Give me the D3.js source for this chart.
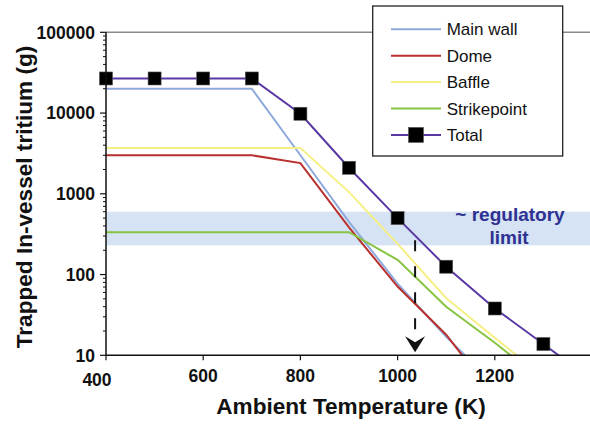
<html><head>
<meta charset="utf-8">
<title>Trapped tritium vs ambient temperature</title>
<script src="https://d3js.org/d3.v7.min.js"></script>
<style>
  body { margin: 0; background: #fff; }
  text { font-family: "Liberation Sans", Arial, sans-serif; }
  .tick-label { font-weight: bold; font-size: 17.5px; fill: #111; }
  .axis-title { font-weight: bold; font-size: 22.6px; fill: #111; }
  .legend-text { font-size: 17px; fill: #111; }
  .reg-text { font-weight: bold; font-size: 19px; fill: #2e3192; }
</style>
</head>
<body>
<svg id="chart" width="590" height="424"></svg>
<script>

// temperatures (K) at which the series were sampled
const temps = [400, 500, 600, 700, 800, 900, 1000, 1100, 1200, 1300, 1400];

// trapped tritium (g), one value per temperature from 400 K on
const mainWall    = [20000, 20000, 20000, 20000, 3000, 450, 77, 17, 4.3];
const dome        = [3000, 3000, 3000, 3000, 2400, 383, 71, 18, 3];
const baffle      = [3700, 3700, 3700, 3700, 3700, 1050, 240, 51, 16.5, 5.4];
const strikepoint = [335, 335, 335, 335, 335, 335, 152, 40, 14.3, 4.8];
const total       = [26800, 26800, 26800, 26800, 9800, 2100, 500, 125, 38, 13.8, 4.9];

const seriesNames = ["Main wall", "Dome", "Baffle", "Strikepoint", "Total"];
const seriesData = [mainWall, dome, baffle, strikepoint, total];
const seriesColors = ["#8eaadc", "#b8302f", "#f6ef84", "#86c441", "#5a38a4"];

// regulatory band (g) and the arrow marking where total crosses it
const regBand = [230, 600];
const arrowTemp = 1036;
const arrowFrom = 265;
const arrowTo = 10.9;

const xTicks = [400, 600, 800, 1000, 1200];
const yTicks = [10, 100, 1000, 10000, 100000];

const svg = d3.select("#chart");
const plot = { left: 106, right: 592, top: 32.3, bottom: 355.3 };

const x = d3.scaleLinear().domain([400, 1400]).range([plot.left, plot.right]);
const y = d3.scaleLog().domain([10, 100000]).range([plot.bottom, plot.top]);

svg.append("clipPath").attr("id", "clip")
  .append("rect")
  .attr("x", plot.left).attr("y", plot.top)
  .attr("width", plot.right - plot.left).attr("height", plot.bottom - plot.top);

// regulatory limit band
svg.append("rect")
  .attr("x", plot.left)
  .attr("y", y(regBand[1]))
  .attr("width", plot.right - plot.left)
  .attr("height", y(regBand[0]) - y(regBand[1]))
  .attr("fill", "#d5e3f4");

// top gridline
svg.append("line")
  .attr("x1", plot.left).attr("x2", plot.right)
  .attr("y1", y(100000)).attr("y2", y(100000))
  .attr("stroke", "#8a8a8a").attr("stroke-width", 1.5);

// series lines
const line = d3.line()
  .x((d, i) => x(temps[i]))
  .y(d => y(d));

const lines = svg.append("g").attr("clip-path", "url(#clip)");
seriesData.forEach((vals, k) => {
  lines.append("path")
    .attr("d", line(vals))
    .attr("fill", "none")
    .attr("stroke", seriesColors[k])
    .attr("stroke-width", 2);
});

// total markers
svg.append("g").selectAll("rect")
  .data(total.map((v, i) => [temps[i], v]).filter(d => d[1] >= 10))
  .join("rect")
  .attr("x", d => x(d[0]) - 6.5)
  .attr("y", d => y(d[1]) - 6.5)
  .attr("width", 13).attr("height", 13)
  .attr("fill", "#000")
  .attr("stroke", "#555").attr("stroke-width", 0.6);

// dashed arrow
const ax = x(arrowTemp);
svg.append("line")
  .attr("x1", ax).attr("x2", ax)
  .attr("y1", y(arrowFrom)).attr("y2", y(arrowTo) - 18)
  .attr("stroke", "#111").attr("stroke-width", 2)
  .attr("stroke-dasharray", "11,15");
const tip = y(arrowTo);
svg.append("path")
  .attr("d", "M" + ax + "," + tip + " L" + (ax - 10) + "," + (tip - 16) +
             " L" + ax + "," + (tip - 10) + " L" + (ax + 10) + "," + (tip - 16) + " Z")
  .attr("fill", "#111");

// regulatory text
const regText = svg.append("text").attr("class", "reg-text").attr("text-anchor", "middle");
regText.append("tspan").attr("x", 510).attr("y", 221).text("~ regulatory");
regText.append("tspan").attr("x", 509).attr("y", 243.5).text("limit");

// y axis
svg.append("line")
  .attr("x1", plot.left).attr("x2", plot.left)
  .attr("y1", plot.top).attr("y2", plot.bottom)
  .attr("stroke", "#111").attr("stroke-width", 1.5);
const minor = [];
for (let e = 10; e < 100000; e *= 10) {
  for (let m = 2; m < 10; m++) minor.push(e * m);
}
svg.append("g").selectAll("line.minor").data(minor).join("line")
  .attr("x1", plot.left - 3).attr("x2", plot.left)
  .attr("y1", d => y(d)).attr("y2", d => y(d))
  .attr("stroke", "#111").attr("stroke-width", 1);
svg.append("g").selectAll("line.major").data(yTicks).join("line")
  .attr("x1", plot.left - 6).attr("x2", plot.left)
  .attr("y1", d => y(d)).attr("y2", d => y(d))
  .attr("stroke", "#111").attr("stroke-width", 1.2);
svg.append("g").selectAll("text").data(yTicks).join("text")
  .attr("class", "tick-label")
  .attr("x", 95)
  .attr("y", d => y(d) + 6.3)
  .attr("text-anchor", "end")
  .text(d => d);

// x axis
svg.append("line")
  .attr("x1", plot.left).attr("x2", plot.right)
  .attr("y1", plot.bottom).attr("y2", plot.bottom)
  .attr("stroke", "#111").attr("stroke-width", 1.5);
svg.append("g").selectAll("line").data(xTicks).join("line")
  .attr("x1", d => x(d)).attr("x2", d => x(d))
  .attr("y1", plot.bottom).attr("y2", plot.bottom + 5)
  .attr("stroke", "#111").attr("stroke-width", 1.2);
// first label sits lower-left in the original (pushed off by the "10" label)
svg.append("g").selectAll("text").data(xTicks).join("text")
  .attr("class", "tick-label")
  .attr("x", (d, i) => i === 0 ? x(d) - 9 : x(d))
  .attr("y", (d, i) => i === 0 ? 385.5 : 382)
  .attr("text-anchor", "middle")
  .text(d => d);

// axis titles
svg.append("text").attr("class", "axis-title")
  .attr("x", 351).attr("y", 414)
  .attr("text-anchor", "middle")
  .text("Ambient Temperature (K)");
svg.append("text").attr("class", "axis-title")
  .attr("transform", "translate(31.5,197) rotate(-90)")
  .attr("text-anchor", "middle")
  .text("Trapped In-vessel tritium (g)");

// legend
const legend = svg.append("g");
legend.append("rect")
  .attr("x", 372.7).attr("y", 6)
  .attr("width", 190).attr("height", 150)
  .attr("fill", "#fff").attr("stroke", "#222").attr("stroke-width", 1.3);
seriesNames.forEach((name, k) => {
  const ly = 29.3 + k * 26.4;
  legend.append("line")
    .attr("x1", 391).attr("x2", 441)
    .attr("y1", ly).attr("y2", ly)
    .attr("stroke", seriesColors[k]).attr("stroke-width", 2);
  if (name === "Total") {
    legend.append("rect")
      .attr("x", 416 - 7.5).attr("y", ly - 7.5)
      .attr("width", 15).attr("height", 15)
      .attr("fill", "#000").attr("stroke", "#555").attr("stroke-width", 0.6);
  }
  legend.append("text").attr("class", "legend-text")
    .attr("x", 446.7).attr("y", ly + 6)
    .text(name);
});

</script>
</body>
</html>
